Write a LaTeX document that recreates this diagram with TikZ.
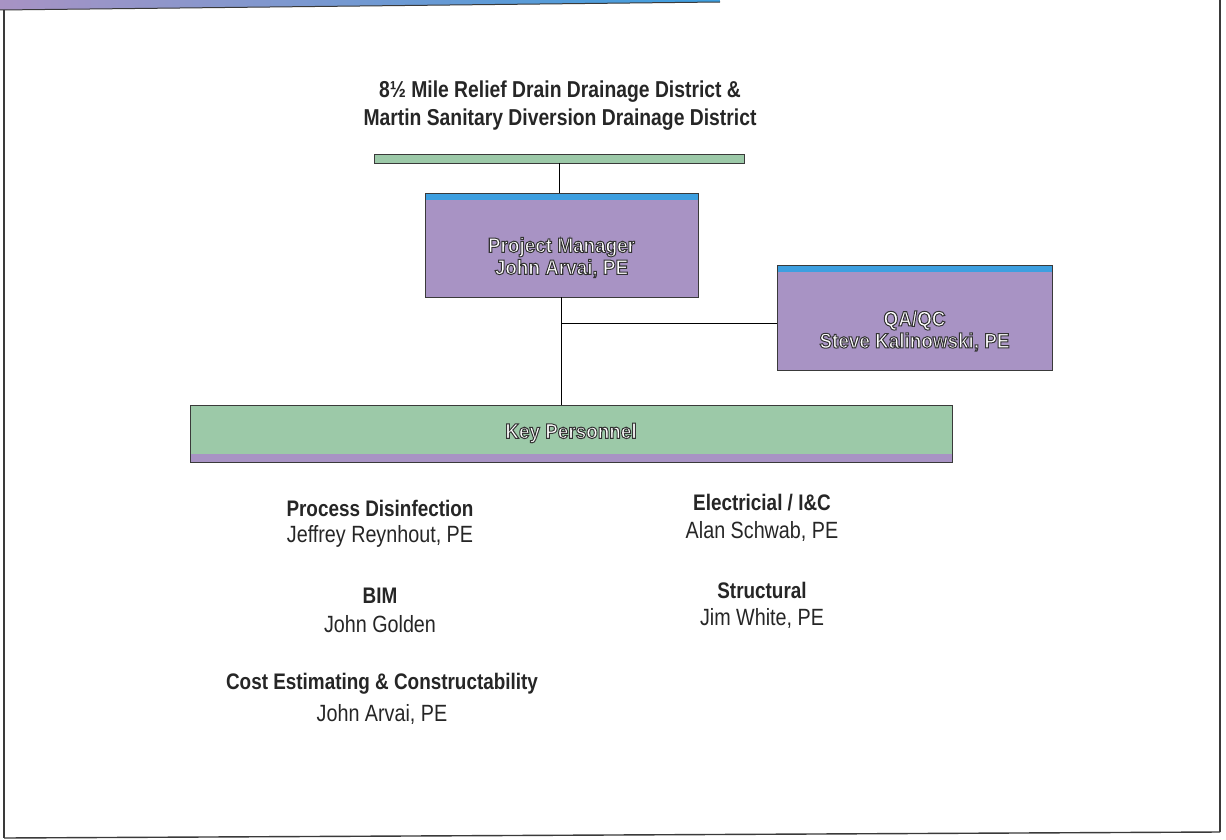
\documentclass[tikz,border=0pt]{standalone}
\usepackage{fontspec}
\setmainfont[FakeStretch=0.84]{Liberation Sans}
\newfontfamily\boxfont[FakeStretch=0.9]{Liberation Sans}
\definecolor{boxpurple}{HTML}{A893C4}
\definecolor{stripblue}{HTML}{3D9FE0}
\definecolor{bargreen}{HTML}{9CC9A8}
\definecolor{edge}{HTML}{3A3A3A}
\definecolor{txt}{HTML}{262626}
\newcommand\outl[1]{\special{pdf:code q 2 Tr 1 w 0.2 G}#1\special{pdf:code Q}}
\tikzset{
  purplebox/.style={draw=edge, line width=0.9pt, fill=boxpurple, rectangle, inner sep=0pt,
    path picture={\fill[stripblue] (path picture bounding box.north west) rectangle ([yshift=-7pt]path picture bounding box.north east);}},
  boxtext/.style={text=white, align=center, inner sep=0pt, font=\boxfont\bfseries\fontsize{21}{22}\selectfont},
  greenbar/.style={draw=edge, line width=0.9pt, fill=bargreen, rectangle, inner sep=0pt},
  conn/.style={draw=black, line width=1pt},
  frameline/.style={draw=edge, line width=1.4pt},
  head/.style={text=txt, align=center, font=\bfseries\fontsize{22.5}{22}\selectfont},
  person/.style={text=txt, align=center, font=\fontsize{23.5}{22}\selectfont},
}
\begin{document}
\begin{tikzpicture}[x=1pt,y=-1pt]
\useasboundingbox (0,0) rectangle (1226,840);
\fill[white] (0,0) rectangle (1226,840);
% frame
\shade[left color=boxpurple, right color=stripblue] (0,0) -- (720,0) -- (720,2) -- (0,10) -- cycle;
\draw[edge, line width=1pt] (0,10) -- (720,2);
\draw[frameline] (4,10) -- (4,838);
\draw[frameline] (4,838) -- (1220,832);
\draw[frameline] (1220,0) -- (1220,832);
% title
\node[head, font=\bfseries\fontsize{23}{28}\selectfont] (title) at (560,106) {8\textonehalf\ Mile Relief Drain Drainage District \&\\Martin Sanitary Diversion Drainage District};
\node[greenbar, minimum width=370pt, minimum height=9pt] (top) at (559,158.5) {};
% boxes
\node[purplebox, minimum width=273pt, minimum height=104pt] (pm) at (561.5,245) {};
\node[boxtext] (pmt) at ([yshift=-12.5pt]pm.center) {\outl{Project Manager}\\\outl{John Arvai, PE}};
\node[purplebox, minimum width=275pt, minimum height=105pt] (qa) at (914.5,317.5) {};
\node[boxtext] (qat) at ([yshift=-13.5pt]qa.center) {\outl{QA/QC}\\\outl{Steve Kalinowski, PE}};
\node[greenbar, minimum width=762pt, minimum height=57pt,
  path picture={\fill[boxpurple] ([yshift=8pt]path picture bounding box.south west) rectangle (path picture bounding box.south east);}] (kp) at (571,433.5) {};
\node[boxtext] (kpt) at (571,433) {\outl{Key Personnel}};
% connectors
\draw[conn] (top.south) -- (top.south |- pm.north);
\draw[conn] (pm.south) -- (pm.south |- kp.north);
\coordinate (j) at ([yshift=-26pt]pm.south);
\draw[conn] (j) -- (qa.west |- j);
% personnel lists
\node[head] (h1) at (380,508) {Process Disinfection};
\node[person] (p1) at (380,536) {Jeffrey Reynhout, PE};
\node[head] (h2) at (380,596) {BIM};
\node[person] (p2) at (380,624) {John Golden};
\node[head] (h3) at (382,684) {Cost Estimating \& Constructability};
\node[person] (p3) at (382,714) {John Arvai, PE};
\node[head] (h4) at (762,503) {Electricial / I\&C};
\node[person] (p4) at (762,531) {Alan Schwab, PE};
\node[head] (h5) at (762,590) {Structural};
\node[person] (p5) at (762,618) {Jim White, PE};
\end{tikzpicture}
\end{document}
